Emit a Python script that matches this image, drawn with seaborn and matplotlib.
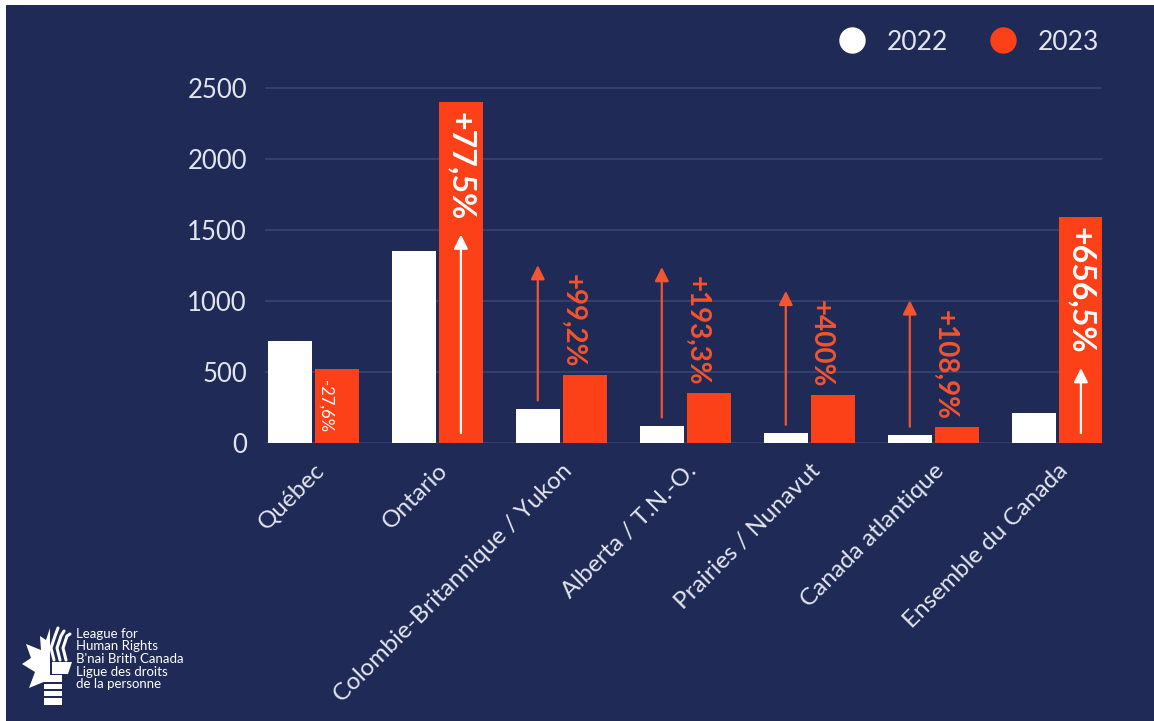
import matplotlib
matplotlib.use("Agg")
import matplotlib.pyplot as plt
from matplotlib.lines import Line2D
from matplotlib.patches import Rectangle, Polygon
import numpy as np
import pandas as pd
import seaborn as sns

# chart data
regions = ["Québec", "Ontario", "Colombie-Britannique / Yukon", "Alberta / T.N.-O.",
           "Prairies / Nunavut", "Canada atlantique", "Ensemble du Canada"]
years = ["2022", "2023"]
count_2022 = [718, 1352, 240, 120, 68, 55, 210]
count_2023 = [521, 2400, 479, 352, 340, 115, 1589]
change_labels = ["-27,6%", "+77,5%", "+99,2%", "+193,3%", "+400%", "+108,9%", "+656,5%"]
label_kind = ["small", "big", "above", "above", "above", "above", "big"]
y_ticks = [0, 500, 1000, 1500, 2000, 2500]
logo_text = "League for\nHuman Rights\nB'nai Brith Canada\nLigue des droits\nde la personne"

NAVY = "#1f2a56"
RED = "#fc4119"
RED_TEXT = "#f4542f"
WHITE = "#ffffff"
TICK = "#e3e6ee"
GRID = "#3b4677"

W, H = 1154, 721

sns.set_style("dark")
plt.rcParams["font.family"] = ["Lato", "DejaVu Sans"]

df = pd.DataFrame({
    "region": regions * 2,
    "year": [years[0]] * len(regions) + [years[1]] * len(regions),
    "count": count_2022 + count_2023,
})

fig = plt.figure(figsize=(W / 100, H / 100), dpi=100, facecolor="white")
# navy panel (thin white margin on top and left like the source image)
fig.patches.append(Rectangle((6 / W, 0), 1, 1 - 5 / H, transform=fig.transFigure,
                             facecolor=NAVY, edgecolor="none", zorder=-10))

y_top = 2560
ax_left, ax_right = 265, 1102
ax_bottom_px, px_per_unit = 443, 0.142
ax_top_px = ax_bottom_px - y_top * px_per_unit
ax = fig.add_axes([ax_left / W, 1 - ax_bottom_px / H,
                   (ax_right - ax_left) / W, (ax_bottom_px - ax_top_px) / H])
ax.patch.set_visible(False)

sns.barplot(data=df, x="region", y="count", hue="year", order=regions, hue_order=years,
            palette={"2022": WHITE, "2023": RED}, width=0.76, gap=0.07,
            saturation=1, legend=False, ax=ax, zorder=3, linewidth=0, edgecolor="none")

ax.set_xlim(-0.39, 6.36)
ax.set_ylim(0, y_top)
ax.set_yticks(y_ticks)
ax.set_axisbelow(True)
ax.grid(axis="y", color=GRID, lw=1.1)
ax.grid(axis="x", visible=False)
for s in ax.spines.values():
    s.set_visible(False)
ax.set_xlabel("")
ax.set_ylabel("")
ax.tick_params(axis="y", length=0, pad=13, labelsize=18.5, labelcolor=TICK)
ax.tick_params(axis="x", length=0, pad=12, labelsize=17.5, labelcolor=TICK)
plt.setp(ax.get_xticklabels(), rotation=45, ha="right", va="top", rotation_mode="anchor")

off = 0.19  # half spacing between the paired bars
red_texts = []
for i, (v22, v23, lab, kind) in enumerate(zip(count_2022, count_2023, change_labels, label_kind)):
    if kind == "small":
        ax.text(i + off - 0.09, v23 - 75, lab, rotation=270, ha="center", va="top",
                color=WHITE, fontsize=12, zorder=5)
    elif kind == "big":
        t = ax.text(i + off, v23 - 70, lab, rotation=270, ha="center", va="top",
                    color=WHITE, fontsize=23, fontweight="bold", zorder=5)
        red_texts.append((i, v22, v23, t, kind))
    else:
        t = ax.text(i + off - 0.1, v23 + 50, lab, rotation=270, ha="center", va="bottom",
                    color=RED_TEXT, fontsize=20, fontweight="bold", zorder=5)
        red_texts.append((i, v22, v23, t, kind))

fig.canvas.draw()
inv = ax.transData.inverted()
arrow_style = "-|>,head_length=0.6,head_width=0.3"
for i, v22, v23, t, kind in red_texts:
    bb = t.get_window_extent()
    top = inv.transform((0, bb.y1))[1]
    bottom = inv.transform((0, bb.y0))[1]
    if kind == "big":
        ax.annotate("", xy=(i + off, bottom - 100), xytext=(i + off, 70),
                    arrowprops=dict(arrowstyle=arrow_style, color=WHITE, lw=1.6,
                                    mutation_scale=14, shrinkA=0, shrinkB=0), zorder=6)
    else:
        ax.annotate("", xy=(i - off, top + 65), xytext=(i - off, v22 + 60),
                    arrowprops=dict(arrowstyle=arrow_style, color=RED_TEXT, lw=1.6,
                                    mutation_scale=14, shrinkA=0, shrinkB=0), zorder=6)

# legend with round markers
handles = [Line2D([], [], ls="", marker="o", markersize=19, markerfacecolor=c,
                  markeredgewidth=0) for c in (WHITE, RED)]
leg = fig.legend(handles, years, loc="center right", bbox_to_anchor=(1099 / W, 1 - 42 / H),
                 ncol=2, frameon=False, handlelength=1.0, handletextpad=0.8,
                 columnspacing=1.6, fontsize=19, borderaxespad=0, borderpad=0)
for txt in leg.get_texts():
    txt.set_color(TICK)


# simplified logo mark (pixel coordinates of the figure)
def px(x, y):
    return (x / W, 1 - y / H)


leaf = [(50, 628), (46, 640), (40, 636), (41, 650), (26, 644), (31, 658), (22, 664),
        (35, 672), (29, 688), (46, 681), (50, 690), (50, 670)]
fig.patches.append(Polygon([px(*p) for p in leaf], closed=True, transform=fig.transFigure,
                           facecolor=WHITE, edgecolor="none"))
fig.patches.append(Rectangle(px(44, 705), 18 / W, 30 / H, transform=fig.transFigure,
                             facecolor=WHITE, edgecolor="none"))
for yy in (682, 689, 696):
    fig.patches.append(Rectangle(px(44, yy + 2), 18 / W, 2 / H, transform=fig.transFigure,
                                 facecolor=NAVY, edgecolor="none"))
fig.patches.append(Polygon([px(*p) for p in [(52, 662), (72, 662), (68, 674), (52, 674)]],
                           closed=True, transform=fig.transFigure, facecolor=WHITE,
                           edgecolor="none"))
for k, (x0, x1) in enumerate([(54, 58), (60, 64), (66, 70)]):
    xs = np.array([x0, x0 - 3, x0 + 1, x1])
    ys = np.array([660, 648, 636, 628 + k * 3])
    fig.lines.append(Line2D(xs / W, 1 - ys / H, transform=fig.transFigure,
                            color=WHITE, lw=2.2))

fig.text(76 / W, 1 - 628 / H, logo_text, ha="left", va="top", color=WHITE,
         fontsize=9.5, linespacing=1.05)

fig.savefig("out.png", dpi=100, facecolor=fig.get_facecolor())
